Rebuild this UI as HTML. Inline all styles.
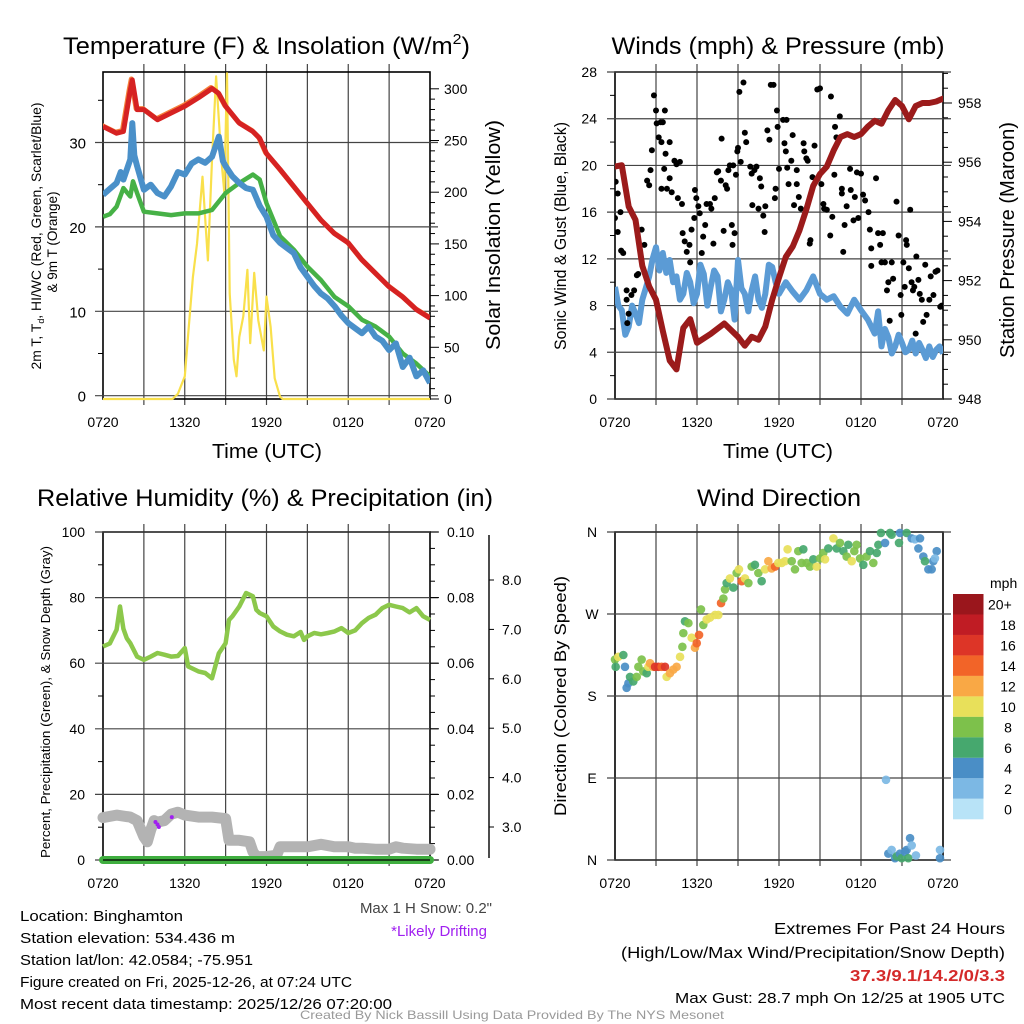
<!DOCTYPE html>
<html><head><meta charset="utf-8"><style>
html,body{margin:0;padding:0;background:#fff}
svg{display:block;font-family:"Liberation Sans",Arial,sans-serif}
</style></head><body>
<svg id="c" width="1024" height="1024" viewBox="0 0 1024 1024"></svg>
<script>
// ===== Panel 1 data =====
const hrsT=[0,1,1.5,2,2.15,2.5,3,4,5,6,7,8,8.5,9,10,11,11.5,12,13,14,15,16,17,18,19,20,21,22,23,24];
const tempRed=[31.9,31.1,31.3,36.2,37.4,33.9,33.9,32.7,33.5,34.3,35.3,36.4,35.8,34.3,32.3,31.3,30.5,28.7,26.8,24.8,22.8,20.8,19.2,18.1,16.1,14.5,12.9,11.7,10.2,9.2];
const hrsD=[0,0.5,1,1.5,2,2.2,2.5,3,4,5,6,7,8,9,10,11,11.5,12,13,14,15,16,17,18,19,20,21,22,23,24];
const dewGreen=[21.2,21.5,22.4,24.6,23.6,25.4,24.0,21.8,21.6,21.4,21.6,21.6,22.0,24.0,25.2,26.2,25.6,22.8,18.9,17.3,15.3,13.7,11.7,10.6,9.0,8.2,7.0,5.0,3.8,2.3];
const hrsW=[0,0.5,1,1.3,1.5,2,2.15,2.3,2.5,3,3.5,4,4.5,5,5.5,6,6.5,7,7.5,8,8.5,8.8,9,9.5,10,10.5,11,11.5,12,12.5,13,13.5,14,14.5,15,15.5,16,16.5,17,17.5,18,18.5,19,19.5,20,20.5,21,21.5,22,22.5,23,23.5,24];
const wcBlue=[23.8,24.5,25.2,26.5,25.6,28.0,32.3,28.5,27.2,24.4,25.0,24.0,23.6,24.8,26.5,26.2,27.5,28.0,27.6,28.3,30.7,27.8,27.2,26.0,25.2,24.6,24.4,22.5,21.2,19.0,18.1,17.5,16.9,15.2,14.1,13.0,12.1,11.5,10.6,9.5,8.6,8.0,7.4,8.2,7.0,6.5,5.4,6.2,3.4,4.5,2.3,3.0,1.5];
const hrsS=[0,5.1,5.5,6,6.3,6.6,6.9,7.3,7.7,8.0,8.3,8.7,8.9,9.1,9.3,9.6,9.8,10.0,10.3,10.6,10.8,11.1,11.4,11.8,12.0,12.3,12.6,13.0,13.2,13.7,14.2,24];
const solar=[0,0,5,22,70,118,150,215,134,231,312,230,200,315,102,38,22,60,80,125,54,122,76,47,99,70,20,2,0,0,0,0];
// ===== Panel 2 data =====
const hrsP=[0,0.5,1,1.5,2,2.5,3,3.5,4,4.5,5,5.5,6,7,8,9,9.5,10,10.5,11,11.5,12,12.5,13,13.5,14,14.5,15,15.5,16,16.5,17,17.5,18,18.5,19,19.5,20,20.5,21,21.5,22,22.5,23,23.5,24];
const pressure=[955.85,955.9,954.5,954.05,952.5,951.8,951.35,950.3,949.3,949.0,950.4,950.7,949.9,950.2,950.55,950.1,949.8,950.1,950.0,950.45,951.35,952.1,952.8,953.15,953.7,954.4,955.2,955.6,955.85,956.4,956.85,956.95,956.85,956.95,957.2,957.4,957.3,957.75,958.1,957.9,957.45,957.9,958.0,958.0,958.05,958.15];
const hrsWind=[0,0.25,0.5,0.75,1,1.25,1.5,1.75,2,2.25,2.5,2.75,3,3.25,3.5,3.75,4,4.25,4.5,4.75,5,5.25,5.5,5.75,6,6.25,6.5,6.75,7,7.25,7.5,7.75,8,8.25,8.5,8.75,9,9.25,9.5,9.75,10,10.25,10.5,10.75,11,11.25,11.5,11.75,12,12.5,13,13.5,14,14.5,15,15.5,16,16.5,17,17.5,18,18.5,19,19.25,19.5,19.75,20,20.25,20.5,20.75,21,21.25,21.5,21.75,22,22.25,22.5,22.75,23,23.25,23.5,23.75,24];
const windSpd=[9.6,8.0,7.6,5.5,6.2,8.0,7.3,6.5,8.5,9.5,10.5,12.0,13.0,11.0,12.5,10.8,11.9,10.0,10.5,8.5,9.0,10.8,10.0,8.2,9.0,11.5,10.7,8.0,9.6,11.0,10.5,7.5,8.5,10.0,9.3,6.8,11.9,9.5,9.0,7.5,9.3,10.5,8.5,7.8,9.0,11.5,11.3,10.0,9.0,10.0,9.2,8.5,9.3,10.5,9.0,8.5,8.8,7.9,7.3,8.5,7.6,6.8,5.6,7.5,4.5,6.0,5.3,3.9,4.5,5.5,4.8,4.0,4.2,5.0,3.9,4.8,4.2,3.5,4.5,3.6,4.2,4.5,3.9];
const gustHrs=[0,0.05,0.2,0.2,0.4,0.45,0.6,0.85,0.85,1.0,0.9,1.2,1.4,1.6,1.7,1.95,2.15,2.35,2.5,2.6,2.7,2.85,3.0,3.05,3.2,3.35,3.5,3.65,3.4,3.7,3.6,3.4,3.8,4.0,4.0,4.15,4.35,4.5,4.75,4.6,4.9,4.95,5.1,5.25,5.45,5.5,5.6,5.8,5.85,5.95,6.1,6.2,6.35,6.45,6.6,6.7,6.95,7.05,7.2,7.3,7.45,7.55,7.8,7.95,7.75,8.1,8.2,8.3,8.4,8.65,8.55,8.75,8.6,8.85,8.95,9.0,9.2,9.1,9.4,9.5,9.6,9.9,10.0,10.05,10.2,10.35,10.5,10.6,10.7,10.85,11.0,10.95,11.15,11.3,11.4,11.7,11.6,11.85,11.9,11.75,12.0,12.3,12.4,12.55,12.5,12.6,12.7,12.9,13.0,13.1,13.3,13.3,13.45,13.6,13.8,13.85,14.0,14.1,14.3,14.25,14.45,14.6,14.8,15.0,15.1,15.25,15.3,15.5,15.75,15.8,15.9,16.05,16.1,16.2,16.45,16.6,16.6,16.8,16.7,16.95,17.2,17.25,17.45,17.55,17.7,17.8,18.0,18.15,18.3,18.55,18.65,18.75,18.75,19.1,19.25,19.4,19.5,19.6,19.75,19.9,20.0,20.1,20.25,20.35,20.6,20.75,20.9,20.95,21.1,21.2,21.3,21.35,21.5,21.6,21.7,21.8,21.9,22.0,22.05,22.2,22.3,22.45,22.55,22.7,22.8,23.0,23.1,23.3,23.45,23.6,23.8,23.9,24.0];
const gustSpd=[15.5,18.6,17.6,14.3,16.0,12.7,12.5,9.3,8.5,7.3,6.5,8.9,9.3,10.6,10.7,14.5,13.2,18.7,18.3,19.6,21.3,26.0,24.7,23.6,22.4,23.7,23.7,24.7,22.0,21.0,19.7,18.0,18.0,22.0,18.9,17.7,20.4,20.1,20.3,17.2,16.7,14.2,13.5,12.6,13.2,11.7,14.5,15.5,17.9,17.2,16.5,15.9,12.5,13.9,14.9,16.7,16.7,16.3,13.3,17.2,19.4,19.5,22.3,14.4,18.7,18.3,18.0,19.6,20.0,20.0,14.9,14.2,13.2,19.2,21.2,21.5,20.3,26.3,27.1,22.8,22.0,19.9,19.3,16.6,19.6,19.9,16.3,18.9,18.2,15.7,16.5,14.3,23.0,22.2,26.9,17.2,26.9,24.7,23.3,18.0,19.7,23.9,21.9,23.9,21.2,19.8,18.4,20.4,22.6,16.6,19.6,18.4,17.3,16.3,21.9,21.2,20.6,20.4,13.6,13.3,19.0,21.7,26.5,26.6,18.4,16.7,16.3,16.2,14.0,25.9,15.6,19.2,23.3,22.4,24.2,18.0,17.6,14.9,12.6,16.5,19.7,17.9,15.3,17.3,19.4,15.5,19.3,17.5,17.0,16.0,14.5,12.9,11.4,18.9,14.2,13.2,11.7,14.2,11.7,9.3,10.0,6.7,11.7,10.3,16.9,14.0,8.9,7.2,11.7,9.6,13.6,13.2,11.2,16.2,10.0,9.3,9.6,5.6,12.2,10.2,9.0,8.5,6.6,11.5,7.2,8.5,10.5,8.9,10.9,11.0,7.9,8.0,7.9];
// ===== Panel 3 data =====
const hrsRH=[0,0.5,1,1.25,1.5,1.75,2,2.5,3,3.5,4,4.5,5,5.5,6,6.25,7,7.5,8,8.5,9,9.25,9.5,10,10.5,11,11.25,11.5,12,12.5,13,13.5,14,14.5,14.75,15,15.5,16,16.5,17,17.5,18,18.5,19,19.5,20,20.5,21,21.5,22,22.5,23,23.5,24];
const rhVals=[65.1,66,70.2,77.3,70.5,67.6,66.1,62,61,62,63.1,62.6,62,62.2,64.6,59,57.5,57,55.4,63,66.1,73.2,74.3,77.3,81.4,80.4,76.3,75.3,74.3,71.2,69.7,68.7,68.2,69.5,67.1,68.2,69.2,68.8,69.2,69.7,70.7,69.2,70.0,72.2,73.8,74.8,76.8,77.8,77.3,76.8,75.5,76.8,74.3,73.2];
const hrsSD=[0,1,2,2.5,3,3.25,3.5,3.75,4,4.5,5,5.5,6,7,8,9,9.25,10,10.75,11,11.25,12,12.75,13,14,15,16,17,18,18.5,19,20,21,21.5,22,23,24];
const snowDepth=[3.19,3.24,3.2,3.13,2.8,2.7,2.94,3.13,3.1,3.13,3.26,3.3,3.24,3.2,3.2,3.17,2.73,2.73,2.7,2.5,2.4,2.4,2.43,2.6,2.6,2.6,2.65,2.6,2.6,2.57,2.57,2.55,2.55,2.6,2.57,2.55,2.55];
const drift=[[3.85,3.1],[4.0,3.05],[4.1,3.0],[5.05,3.2]];
const precip=[0,0];
// ===== Panel 4 data =====
const dirHrs=[0,0.05,0.24,0.61,0.73,0.85,0.98,1.1,1.34,1.59,1.71,1.95,2.07,2.32,2.44,2.56,2.8,2.93,3.17,3.41,3.66,3.78,4.02,4.27,4.51,4.76,4.93,5.0,5.12,5.37,5.61,5.85,5.98,6.15,6.29,6.46,6.71,6.95,7.32,7.56,7.76,7.93,8.05,8.17,8.41,8.66,8.9,9.07,9.27,9.51,9.76,10.0,10.24,10.49,10.73,10.98,11.22,11.46,11.71,11.95,12.2,12.44,12.63,12.93,13.17,13.41,13.66,13.78,14.02,14.27,14.51,14.76,15.0,15.24,15.37,15.61,15.98,16.22,16.46,16.71,16.95,17.07,17.32,17.51,17.68,17.93,18.17,18.41,18.66,18.9,19.15,19.27,19.46,19.76,20.12,20.24,20.78,20.85,21.34,21.71,21.95,22.2,22.32,22.56,22.68,22.93,23.17,23.29,23.54,23.41,19.83,20.0,20.24,20.49,20.61,20.85,20.98,21.22,21.34,21.46,21.59,21.71,22.02,23.78,23.78];
const dirDeg=[220,212,223,225,212,189,194,201,196,201,212,220,207,205,212,216,212,212,212,212,212,201,205,209,212,223,234,249,262,260,244,233,238,247,275,258,264,266,269,269,282,287,297,304,309,299,315,319,306,309,304,322,324,315,306,319,328,320,322,326,326,328,341,328,319,339,326,341,326,322,330,322,331,337,330,342,353,342,348,339,333,346,328,339,346,331,324,333,339,326,337,346,359,348,359,357,348,359,359,353,352,342,353,333,328,319,319,328,339,331,88,7,11,2,4,7,2,9,11,2,24,16,5,11,2];
const dirSpd=[8,6,10,6,4,4,4,6,6,8,8,8,8,6,10,12,12,16,16,14,16,10,12,12,12,10,8,8,6,8,10,12,14,14,8,8,10,10,10,10,14,8,8,6,10,6,8,10,14,10,8,8,6,8,6,10,12,12,14,10,10,10,10,8,8,8,8,6,8,8,6,10,8,8,10,6,10,6,8,6,8,6,10,8,8,8,6,8,6,8,6,6,6,4,6,6,6,4,6,4,2,4,4,4,6,4,4,4,4,2,2,4,2,4,6,4,6,4,4,6,4,2,2,2,4];
const cbLabels=["20+","18","16","14","12","10","8","6","4","2","0"];
const cbColors=["#9a161c","#c01c24","#dd3527","#f26428","#f9a845","#e8e05a","#7dc14b","#46a86e","#4a8ec6","#7cb8e4","#b8e3f7"];
const xTickLabels=["0720","1320","1920","0120","0720"];

const NS="http://www.w3.org/2000/svg";
const svg=document.getElementById('c');
function el(tag,attrs,parent){const e=document.createElementNS(NS,tag);for(const k in attrs)e.setAttribute(k,attrs[k]);(parent||svg).appendChild(e);return e;}
function txt(s,x,y,size,anchor,parent,extra){const t=el('text',Object.assign({x:x,y:y,'font-size':size,'text-anchor':anchor||'middle',fill:'#000'},extra||{}),parent);t.textContent=s;return t;}
function pathFrom(xs,ys,fx,fy){let d='';for(let i=0;i<xs.length;i++){d+=(i?'L':'M')+fx(xs[i]).toFixed(1)+' '+fy(ys[i]).toFixed(1);}return d;}
function grp(name){const g=el('g',{});return g;}
function fit(w){return {textLength:w,lengthAdjust:'spacingAndGlyphs'};}

function frame(P,g){
  for(let i=1;i<8;i++){const x=P.x0+i*(P.x1-P.x0)/8;const l=el('line',{x1:x,y1:P.y0-8,x2:x,y2:P.y1+6,stroke:'#444','stroke-width':1.2},g);}
  const b=el('rect',{x:P.x0,y:P.y0,width:P.x1-P.x0,height:P.y1-P.y0,fill:'none',stroke:'#000','stroke-width':1.6},g);
  
  for(let i=0;i<5;i++){const x=P.x0+i*(P.x1-P.x0)/4;const t=txt(xTickLabels[i],x,P.y1+28,14,'middle',g);}
}
function hgrid(P,y,g){const l=el('line',{x1:P.x0-8,y1:y,x2:P.x1+8,y2:y,stroke:'#444','stroke-width':1.2},g);}

// ===== Panel 1 =====
(function(){
const P={x0:103,x1:430,y0:72,y1:399};
const X=t=>P.x0+t/24*(P.x1-P.x0);
const YT=v=>395.7-v*8.44;
const YS=v=>399-v*1.034;
const g=grp('temperature-panel');
frame(P,g);
[0,10,20,30].forEach(v=>{hgrid(P,YT(v),g);const t=txt(String(v),86,YT(v)+6,15,'end',g);});
[5,15,25,35].forEach(v=>el('line',{x1:P.x0-5,y1:YT(v),x2:P.x0,y2:YT(v),stroke:'#000'},g));
for(let v=0;v<=300;v+=10){el('line',{x1:P.x1,y1:YS(v),x2:P.x1+(v%50?5:9),y2:YS(v),stroke:'#000'},g);}
[0,50,100,150,200,250,300].forEach(v=>{const t=txt(String(v),444,YS(v)+5,14,'start',g);});
const cp=el('clipPath',{id:'cp1'},g);el('rect',{x:P.x0,y:P.y0-2,width:P.x1-P.x0,height:P.y1-P.y0+4},cp);
const d=el('g',{'clip-path':'url(#cp1)'},g);
let p=el('path',{d:pathFrom(hrsS,solar,X,YS),fill:'none',stroke:'#f9e04b','stroke-width':2.2,'stroke-linejoin':'round'},d);
p=el('path',{d:pathFrom(hrsD,dewGreen,X,YT),fill:'none',stroke:'#46b146','stroke-width':4.5,'stroke-linejoin':'round'},d);
p=el('path',{d:pathFrom(hrsW,wcBlue,X,YT),fill:'none',stroke:'#4a90c9','stroke-width':6,'stroke-linejoin':'round'},d);
p=el('path',{d:pathFrom(hrsT,tempRed,X,YT),fill:'none',stroke:'#f5813b','stroke-width':5,'stroke-linejoin':'round',transform:'translate(-1,-1)'},d);
p=el('path',{d:pathFrom(hrsT,tempRed,X,YT),fill:'none',stroke:'#d62222','stroke-width':5,'stroke-linejoin':'round'},d);
let t=txt('Temperature (F) & Insolation (W/m',252,54,24,'middle',g);const sup=el('tspan',{dy:-10,'font-size':15},t);sup.textContent='2';const cl=el('tspan',{dy:10},t);cl.textContent=')';
t.setAttribute('x',63);t.setAttribute('text-anchor','start');t.setAttribute('textLength',407);t.setAttribute('lengthAdjust','spacingAndGlyphs');

t=el('text',{transform:'translate(41,236) rotate(-90)','font-size':14,'text-anchor':'middle',textLength:267,lengthAdjust:'spacingAndGlyphs'},g);t.textContent='2m T, T';const sb=el('tspan',{'font-size':9,dy:3},t);sb.textContent='d';const r=el('tspan',{dy:-3},t);r.textContent=', HI/WC (Red, Green, Scarlet/Blue)';

t=txt('& 9m T (Orange)',0,0,14,'middle',g,Object.assign({transform:'translate(57,242) rotate(-90)'},fit(101)));
t=txt('Solar Insolation (Yellow)',0,0,20,'middle',g,Object.assign({transform:'translate(500,235) rotate(-90)'},fit(230)));
t=txt('Time (UTC)',267,458,20,'middle',g,fit(110));
})();

// ===== Panel 2 =====
(function(){
const P={x0:615,x1:943,y0:72,y1:399};
const X=t=>P.x0+t/24*(P.x1-P.x0);
const YW=v=>P.y1-v*(P.y1-P.y0)/28;
const YP=v=>P.y1-(v-948)*29.6;
const g=grp('winds-panel');
frame(P,g);
[0,4,8,12,16,20,24,28].forEach(v=>{hgrid(P,YW(v),g);const t=txt(String(v),597,YW(v)+5,14,'end',g);});
[2,6,10,14,18,22,26].forEach(v=>el('line',{x1:P.x0-5,y1:YW(v),x2:P.x0,y2:YW(v),stroke:'#000'},g));
for(let v=948;v<=959;v+=0.5){el('line',{x1:P.x1,y1:YP(v),x2:P.x1+(v%2?5:9),y2:YP(v),stroke:'#000'},g);}
[948,950,952,954,956,958].forEach(v=>{const t=txt(String(v),958,YP(v)+5,14,'start',g);});
const cp=el('clipPath',{id:'cp2'},g);el('rect',{x:P.x0,y:P.y0,width:P.x1-P.x0,height:P.y1-P.y0},cp);
const d=el('g',{'clip-path':'url(#cp2)'},g);
let p=el('path',{d:pathFrom(hrsWind,windSpd,X,YW),fill:'none',stroke:'#5b9bd5','stroke-width':6,'stroke-linejoin':'round'},d);
const gg=el('g',{},d);
for(let i=0;i<gustHrs.length;i++){const c=el('circle',{cx:X(gustHrs[i]),cy:YW(gustSpd[i]),r:3,fill:'#000'},gg);}
p=el('path',{d:pathFrom(hrsP,pressure,X,YP),fill:'none',stroke:'#9b1b1b','stroke-width':6,'stroke-linejoin':'round','stroke-linecap':'round'},d);
let t=txt('Winds (mph) & Pressure (mb)',778,54,24,'middle',g,fit(333));
t=txt('Sonic Wind & Gust (Blue, Black)',0,0,17,'middle',g,Object.assign({transform:'translate(566,236) rotate(-90)'},fit(228)));
t=txt('Station Pressure (Maroon)',0,0,20,'middle',g,Object.assign({transform:'translate(1014,240) rotate(-90)'},fit(236)));
t=txt('Time (UTC)',778,458,20,'middle',g,fit(110));
})();

// ===== Panel 3 =====
(function(){
const P={x0:103,x1:430,y0:532,y1:860};
const X=t=>P.x0+t/24*(P.x1-P.x0);
const YR=v=>P.y1-v*(P.y1-P.y0)/100;
const YPr=v=>P.y1-v*(P.y1-P.y0)/0.1;
const YSD=v=>827-(v-3)*49.4;
const g=grp('humidity-panel');
frame(P,g);
[0,20,40,60,80,100].forEach(v=>{hgrid(P,YR(v),g);const t=txt(String(v),85,YR(v)+5,14,'end',g);});
[10,30,50,70,90].forEach(v=>el('line',{x1:P.x0-5,y1:YR(v),x2:P.x0,y2:YR(v),stroke:'#000'},g));
for(let v=0;v<=100;v+=5){el('line',{x1:P.x1,y1:YR(v),x2:P.x1+(v%20?5:9),y2:YR(v),stroke:'#000'},g);}
["0.00","0.02","0.04","0.06","0.08","0.10"].forEach(s=>{const y=YPr(parseFloat(s));const t=txt(s,447,y+5,14,'start',g);});
const sa=el('line',{x1:489,y1:535,x2:489,y2:858,stroke:'#000','stroke-width':1.4},g);
for(let v=2.5;v<=8.5;v+=0.5){const y=YSD(v);if(y<535||y>858)continue;el('line',{x1:489,y1:y,x2:489+(v%1?0:5),y2:y,stroke:'#000'},g);}
["3.0","4.0","5.0","6.0","7.0","8.0"].forEach(s=>{const t=txt(s,502,YSD(parseFloat(s))+5,14,'start',g);});
let p=el('path',{d:pathFrom(hrsSD,snowDepth,X,YSD),fill:'none',stroke:'#b3b3b3','stroke-width':11,'stroke-linejoin':'round','stroke-linecap':'round'},g);
drift.forEach(q=>{const c=el('circle',{cx:X(q[0]),cy:YSD(q[1]),r:2,fill:'#a020f0'},g);});
p=el('path',{d:pathFrom([0,24],precip,X,YPr),fill:'none',stroke:'#3fae3f','stroke-width':8,'stroke-linecap':'round'},g);
el('line',{x1:P.x0,y1:P.y1,x2:P.x1,y2:P.y1,stroke:'#000','stroke-width':1.2},g);
p=el('path',{d:pathFrom(hrsRH,rhVals,X,YR),fill:'none',stroke:'#8cc84b','stroke-width':4.5,'stroke-linejoin':'round'},g);
let t=txt('Relative Humidity (%) & Precipitation (in)',265,506,24,'middle',g,fit(456));
t=txt('Percent, Precipitation (Green), & Snow Depth (Gray)',0,0,13,'middle',g,Object.assign({transform:'translate(50,702) rotate(-90)'},fit(312)));
t=txt('Max 1 H Snow: 0.2"',492,913,15,'end',g,{fill:'#444'});
t=txt('*Likely Drifting',487,936,15,'end',g,{fill:'#a020f0'});
})();

// ===== Panel 4 =====
(function(){
const P={x0:615,x1:943,y0:532,y1:860};
const X=t=>P.x0+t/24*(P.x1-P.x0);
const YD=v=>P.y1-v/360*(P.y1-P.y0);
const g=grp('wind-direction-panel');
frame(P,g);
[[0,'N'],[90,'E'],[180,'S'],[270,'W'],[360,'N']].forEach(a=>{hgrid(P,YD(a[0]),g);const t=txt(a[1],592,YD(a[0])+5,14,'middle',g);});
const pg=el('g',{},g);
for(let i=0;i<dirHrs.length;i++){const bin=Math.min(10,Math.round(dirSpd[i]/2));const c=el('circle',{cx:X(Math.max(0,dirHrs[i])),cy:YD(dirDeg[i]),r:4.3,fill:cbColors[10-bin],'fill-opacity':0.92},pg);}
const cb=el('g',{},g);
let t=txt('mph',990,588,14,'start',cb);
for(let i=0;i<11;i++){const y=594+i*20.48;const r=el('rect',{x:953,y:y,width:30.5,height:20.5,fill:cbColors[i]},cb);
const l=txt(cbLabels[i],i==0?988:1008,y+15.5,14,i==0?'start':'middle',cb);}
t=txt('Wind Direction',779,506,24,'middle',g,fit(164));
t=txt('Direction (Colored By Speed)',0,0,17,'middle',g,Object.assign({transform:'translate(566,696) rotate(-90)'},fit(240)));
})();

// ===== Footer text =====
(function(){
const g=grp('station-info');
const lines=["Location: Binghamton","Station elevation: 534.436 m","Station lat/lon: 42.0584; -75.951","Figure created on Fri, 2025-12-26, at 07:24 UTC","Most recent data timestamp: 2025/12/26 07:20:00"];
const widths=[163,215,233,332,372];
lines.forEach((s,i)=>{const t=txt(s,20,921+i*22,15,'start',g,fit(widths[i]));});
const h=grp('extremes-info');
let t=txt('Extremes For Past 24 Hours',1005,934,16,'end',h,fit(231));
t=txt('(High/Low/Max Wind/Precipitation/Snow Depth)',1005,958,16,'end',h,fit(384));
t=txt('37.3/9.1/14.2/0/3.3',1005,981,16,'end',h,Object.assign({fill:'#d42a2a','font-weight':'bold'},fit(155)));
t=txt('Max Gust: 28.7 mph On 12/25 at 1905 UTC',1005,1003,15,'end',h,fit(330));
t=txt('Created By Nick Bassill Using Data Provided By The NYS Mesonet',512,1019,12,'middle',svg,Object.assign({fill:'#999'},fit(424)));
})();
</script>
</body></html>
